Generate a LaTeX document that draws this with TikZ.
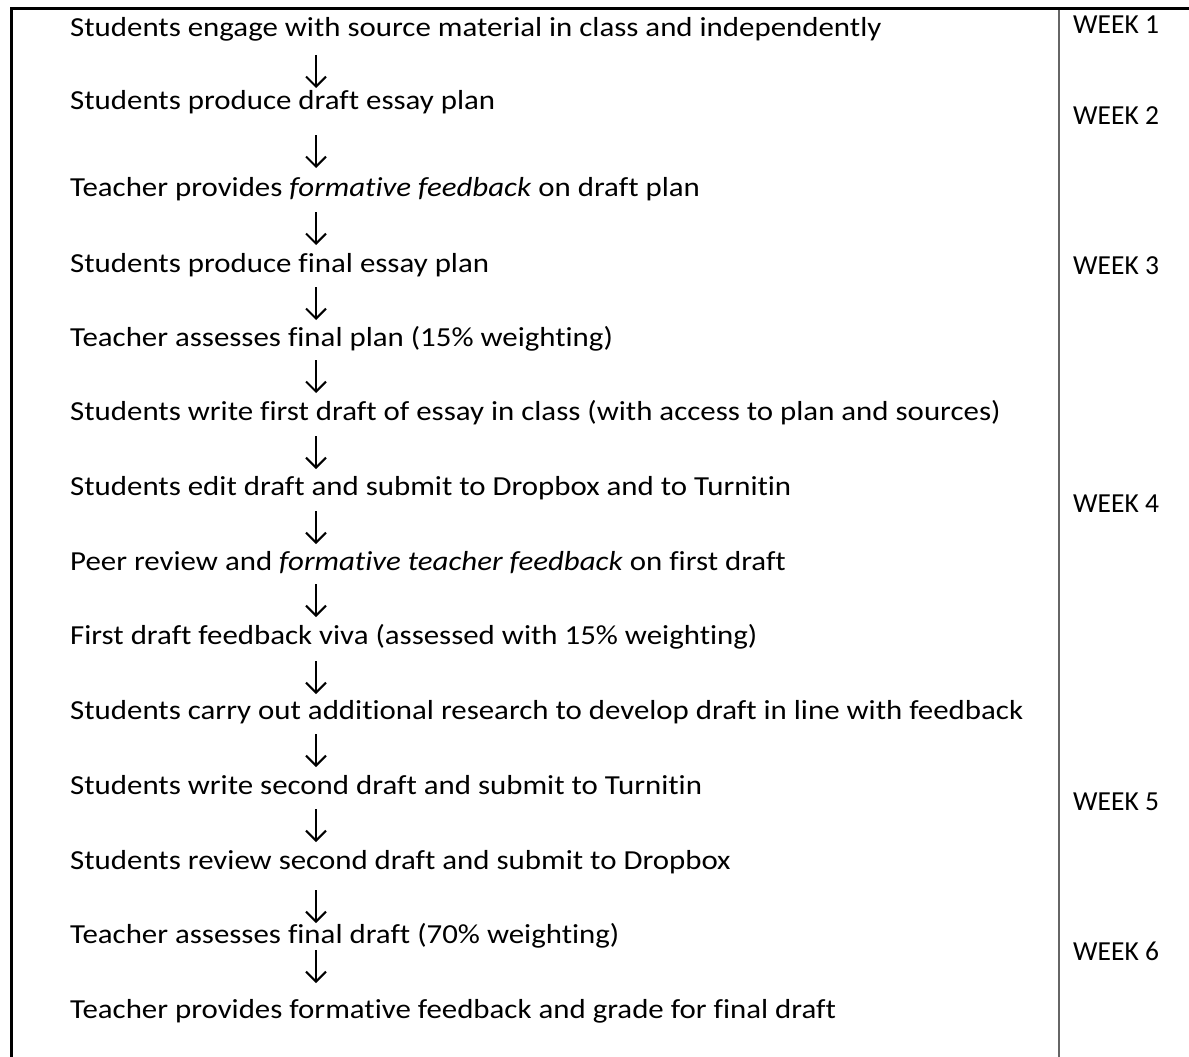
\documentclass[tikz,border=0pt]{standalone}
\usepackage{fontspec}
\setmainfont{Carlito}[Ligatures=NoCommon]
\usetikzlibrary{arrows.meta,calc}
\begin{document}
\begin{tikzpicture}[x=1pt,y=-1pt,
  txt/.style={anchor=base west, inner sep=0pt, font=\fontsize{27.5}{33}\selectfont, xscale=1.123, text=black},
  wk/.style={anchor=base west, inner sep=0pt, font=\fontsize{27.5}{32}\selectfont, text=black},
  arr/.style={line width=2pt, -{Straight Barb[length=10pt,width=20pt]}},
  frame/.style={line width=3pt, black},
  divider/.style={line width=2pt, black!60}]
\fill[white] (0,0) rectangle (1189,1057);
\useasboundingbox (0,0) rectangle (1189,1057);
\draw[frame] (11,1057) -- (11,9) -- (1189,9);
\draw[divider] (1059,10.5) -- (1059,1057);
\coordinate (ax) at (316,0);
\node[txt] (t1) at (70,37) {Students engage with source material in class and independently};
\node[txt] (t2) at (70,110) {Students produce draft essay plan};
\node[txt] (t3) at (70,196) {Teacher provides \textit{formative feedback} on draft plan};
\node[txt] (t4) at (70,272) {Students produce final essay plan};
\node[txt] (t5) at (70,346) {Teacher assesses final plan (15\% weighting)};
\node[txt] (t6) at (70,420) {Students write first draft of essay in class (with access to plan and sources)};
\node[txt] (t7) at (70,495) {Students edit draft and submit to Dropbox and to Turnitin};
\node[txt] (t8) at (70,570) {Peer review and \textit{formative teacher feedback} on first draft};
\node[txt] (t9) at (70,644) {First draft feedback viva (assessed with 15\% weighting)};
\node[txt] (t10) at (70,719) {Students carry out additional research to develop draft in line with feedback};
\node[txt] (t11) at (70,794) {Students write second draft and submit to Turnitin};
\node[txt] (t12) at (70,869) {Students review second draft and submit to Dropbox};
\node[txt] (t13) at (70,943) {Teacher assesses final draft (70\% weighting)};
\node[txt] (t14) at (70,1018) {Teacher provides formative feedback and grade for final draft};
\foreach \i/\j/\a/\b in {1/2/18/22, 2/3/25/28, 3/4/16/27, 4/5/15/26, 5/6/14/27, 6/7/16/26, 7/8/16/26, 8/9/14/27, 9/10/17/25, 10/11/15/27, 11/12/15/27, 12/13/21/20, 13/14/7/35}
  \draw[arr] ($(t\i.base -| ax)+(0,\a)$) -- ($(t\j.base -| ax)-(0,\b)$);
\node[wk] (w1) at (1073,34) {WEEK 1};
\node[wk] (w2) at (1073,124) {WEEK 2};
\node[wk] (w3) at (1073,274) {WEEK 3};
\node[wk] (w4) at (1073,512) {WEEK 4};
\node[wk] (w5) at (1073,810) {WEEK 5};
\node[wk] (w6) at (1073,960) {WEEK 6};
\end{tikzpicture}
\end{document}
